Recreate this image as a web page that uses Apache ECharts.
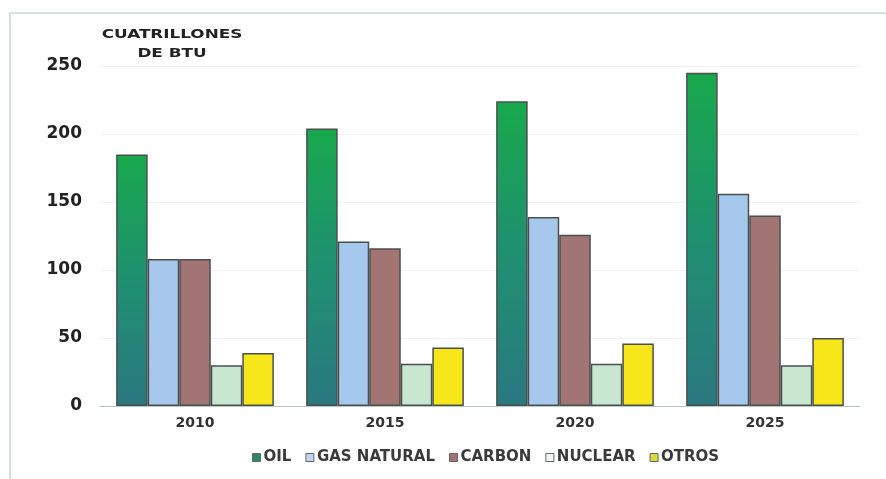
<!DOCTYPE html>
<html>
<head>
<meta charset="utf-8">
<script src="https://cdn.jsdelivr.net/npm/echarts@6/dist/echarts.min.js"></script>
<style>
html,body{margin:0;padding:0;background:#fff;}
#chart{width:886px;height:479px;}
</style>
</head>
<body>
<div id="chart"></div>
<script>
const categories = ['2010', '2015', '2020', '2025'];
const oil = [185, 204, 224, 245];
const gasNatural = [108, 121, 139, 156];
const carbon = [108, 116, 126, 140];
const nuclear = [30, 31, 31, 30];
const otros = [39, 43, 46, 50];
const yTicks = [0, 50, 100, 150, 200, 250];

const FONT = 'DejaVu Sans';
const chart = echarts.init(document.getElementById('chart'));
const border = {borderColor: '#4a5050', borderWidth: 1.5};
const oilGrad = new echarts.graphic.LinearGradient(0, 0, 0, 1, [
  {offset: 0, color: '#18a84c'},
  {offset: 0.5, color: '#1f9070'},
  {offset: 1, color: '#2a7880'}
]);
function mk(name, data, color) {
  return {
    name: name, type: 'bar', data: data,
    barGap: '0%', barCategoryGap: '17%',
    itemStyle: Object.assign({color: color}, border)
  };
}
chart.setOption({
  animation: false,
  backgroundColor: '#ffffff',
  graphic: [{
    type: 'polyline',
    shape: {points: [[10, 479], [10, 13], [886, 13]]},
    style: {stroke: '#d4e2df', lineWidth: 2, fill: null}
  }, {
    type: 'group', x: 172, y: 35, scaleX: 1.4,
    children: [{
      type: 'text', x: 0, y: 0,
      style: {text: 'CUATRILLONES', fontSize: 12, fontWeight: 'bold',
        fontFamily: FONT, fill: '#222', align: 'center', verticalAlign: 'middle'}
    }, {
      type: 'text', x: 0, y: 19,
      style: {text: 'DE BTU', fontSize: 12, fontWeight: 'bold',
        fontFamily: FONT, fill: '#222', align: 'center', verticalAlign: 'middle'}
    }]
  }],
  legend: {
    top: 445, left: 247,
    icon: 'rect',
    itemWidth: 8, itemHeight: 8, itemGap: 14,
    textStyle: {fontSize: 15, fontWeight: 'bold', color: '#3a3a3a', fontFamily: FONT, padding: [0, 0, 0, -2]},
    data: [
      {name: 'OIL', itemStyle: {color: '#2a8a66', borderColor: '#666', borderWidth: 1}},
      {name: 'GAS NATURAL', itemStyle: {color: '#bcd6ee', borderColor: '#666', borderWidth: 1}},
      {name: 'CARBON', itemStyle: {color: '#a07272', borderColor: '#666', borderWidth: 1}},
      {name: 'NUCLEAR', itemStyle: {color: '#eef6f0', borderColor: '#666', borderWidth: 1}},
      {name: 'OTROS', itemStyle: {color: '#d8d840', borderColor: '#666', borderWidth: 1}}
    ]
  },
  grid: {left: 100, top: 66, width: 760, height: 340},
  xAxis: {
    type: 'category', data: categories,
    axisLine: {show: true, lineStyle: {color: '#b8c8c4', width: 1}},
    axisTick: {show: false},
    axisLabel: {fontSize: 14, fontWeight: 'bold', color: '#333', margin: 10, fontFamily: FONT}
  },
  yAxis: {
    type: 'value', min: yTicks[0], max: yTicks[yTicks.length - 1], interval: 50,
    axisLine: {show: false}, axisTick: {show: false},
    axisLabel: {fontSize: 17, fontWeight: 'bold', color: '#222', margin: 18, fontFamily: FONT},
    splitLine: {lineStyle: {color: '#f2f4f4', width: 1}}
  },
  series: [
    mk('OIL', oil, oilGrad),
    mk('GAS NATURAL', gasNatural, '#a6c8ec'),
    mk('CARBON', carbon, '#a27474'),
    mk('NUCLEAR', nuclear, '#c8e6d0'),
    mk('OTROS', otros, '#f7e61a')
  ]
});
</script>
</body>
</html>
